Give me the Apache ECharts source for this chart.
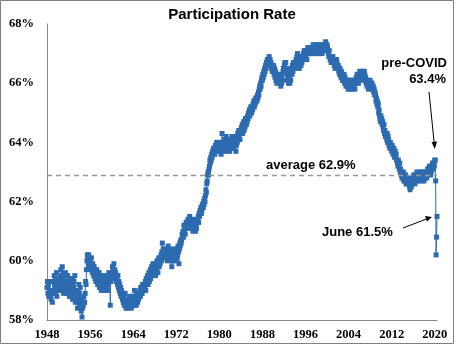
<!DOCTYPE html>
<html>
<head>
<meta charset="utf-8">
<script src="https://cdn.jsdelivr.net/npm/echarts@6/dist/echarts.min.js"></script>
<style>
  html, body { margin: 0; padding: 0; background: #fff; }
  #chart { width: 456px; height: 346px; }
</style>
</head>
<body>
<div id="chart"></div>
<script>
// Labor force participation rate, monthly, Jan 1948 - Jun 2020 (percent)
const startYear = 1948;
const rate = [
  59.1, 59.3, 58.9, 59.2, 58.8, 59.0, 59.3, 58.9, 58.8, 58.7, 59.0, 58.9, // 1948
  58.6, 59.0, 59.3, 58.9, 59.5, 59.2, 58.9, 59.4, 59.1, 59.6, 58.8, 59.0, // 1949
  59.3, 59.1, 59.0, 59.4, 59.2, 59.5, 59.1, 59.7, 59.4, 59.2, 59.8, 59.0, // 1950
  59.2, 58.9, 59.5, 59.0, 59.3, 59.6, 59.1, 59.2, 58.9, 59.3, 59.5, 59.0, // 1951
  59.1, 59.4, 58.8, 59.0, 59.3, 58.9, 58.8, 59.2, 59.4, 58.7, 59.0, 59.1, // 1952
  59.3, 58.9, 59.5, 58.6, 58.8, 59.0, 58.7, 58.9, 58.4, 58.8, 58.6, 59.2, // 1953
  58.9, 58.5, 59.1, 58.6, 58.3, 58.7, 58.1, 58.4, 58.6, 58.5, 58.8, 58.6, // 1954
  58.6, 58.9, 59.3, 59.2, 59.7, 60.0, 60.2, 60.1, 59.9, 60.2, 59.8, 59.9, // 1955
  60.0, 59.7, 59.9, 60.1, 59.8, 59.6, 59.9, 59.7, 59.5, 59.8, 59.6, 59.4, // 1956
  59.6, 59.3, 59.5, 59.7, 59.4, 59.2, 59.5, 59.3, 59.6, 59.1, 59.4, 59.2, // 1957
  59.3, 59.0, 59.4, 59.5, 59.2, 59.4, 59.0, 59.3, 59.1, 59.5, 59.2, 59.0, // 1958
  59.4, 59.1, 59.3, 59.0, 59.2, 59.4, 59.6, 59.3, 59.5, 58.5, 59.3, 59.5, // 1959
  59.6, 59.4, 59.8, 59.7, 59.5, 59.9, 59.6, 59.7, 59.4, 59.6, 59.3, 59.5, // 1960
  59.4, 59.2, 59.5, 59.1, 59.3, 59.0, 59.2, 58.9, 59.1, 58.8, 59.0, 58.9, // 1961
  58.7, 58.9, 58.6, 58.8, 58.5, 58.7, 58.9, 58.6, 58.4, 58.7, 58.5, 58.6, // 1962
  58.4, 58.6, 58.7, 58.5, 58.8, 58.6, 58.5, 58.7, 58.4, 58.6, 58.8, 58.5, // 1963
  58.6, 58.7, 58.5, 59.0, 58.7, 58.6, 58.8, 58.5, 58.7, 58.9, 58.6, 58.8, // 1964
  58.7, 58.9, 58.8, 59.0, 58.8, 59.1, 58.9, 59.0, 58.9, 59.2, 59.0, 59.1, // 1965
  59.0, 59.2, 59.1, 59.3, 59.0, 59.4, 59.2, 59.3, 59.5, 59.2, 59.4, 59.6, // 1966
  59.3, 59.5, 59.7, 59.4, 59.6, 59.8, 59.5, 59.7, 59.9, 59.6, 59.8, 59.7, // 1967
  59.6, 59.8, 59.5, 59.9, 59.7, 60.0, 59.8, 59.6, 59.9, 60.1, 59.8, 60.0, // 1968
  59.9, 60.1, 60.2, 60.0, 60.3, 60.6, 60.2, 60.4, 60.3, 60.1, 60.3, 60.2, // 1969
  60.3, 60.1, 60.4, 60.2, 60.0, 60.3, 60.5, 60.2, 60.1, 60.4, 60.2, 60.3, // 1970
  60.0, 60.2, 59.8, 60.1, 60.3, 60.0, 60.2, 60.4, 60.1, 60.3, 60.0, 60.2, // 1971
  60.3, 60.1, 60.4, 60.2, 60.5, 60.3, 59.9, 60.4, 60.6, 60.5, 60.7, 60.6, // 1972
  60.7, 60.9, 60.8, 61.0, 60.8, 61.2, 61.0, 61.1, 60.9, 61.2, 61.3, 61.1, // 1973
  61.3, 61.2, 61.4, 61.1, 61.3, 61.2, 61.5, 61.3, 61.2, 61.4, 61.3, 61.1, // 1974
  61.2, 61.0, 61.3, 61.2, 61.4, 61.1, 61.3, 61.0, 61.2, 61.1, 61.4, 61.3, // 1975
  61.4, 61.5, 61.3, 61.6, 61.5, 61.7, 61.6, 61.8, 61.6, 61.7, 61.9, 61.8, // 1976
  61.8, 62.0, 61.9, 62.1, 62.0, 62.2, 62.4, 62.3, 62.6, 62.7, 62.9, 63.0, // 1977
  62.9, 63.1, 63.2, 63.4, 63.3, 63.5, 63.4, 63.6, 63.5, 63.7, 63.6, 63.8, // 1978
  63.7, 63.8, 63.6, 63.9, 63.7, 63.8, 64.0, 63.7, 63.9, 63.8, 64.0, 63.8, // 1979
  63.9, 63.7, 63.8, 64.0, 63.6, 63.9, 64.3, 63.8, 63.7, 63.9, 63.8, 64.0, // 1980
  63.9, 64.1, 63.8, 64.2, 64.0, 63.7, 63.9, 64.1, 63.8, 64.0, 63.9, 63.7, // 1981
  64.0, 63.8, 64.1, 63.9, 64.2, 64.0, 63.8, 64.1, 63.9, 64.2, 64.0, 63.9, // 1982
  64.0, 63.7, 63.9, 64.2, 64.0, 64.3, 64.1, 64.4, 64.2, 64.3, 64.1, 64.4, // 1983
  64.3, 64.5, 64.4, 64.6, 64.3, 64.5, 64.7, 64.4, 64.6, 64.5, 64.8, 64.6, // 1984
  64.6, 64.8, 64.7, 64.9, 64.8, 65.0, 64.9, 65.1, 64.9, 65.0, 65.2, 65.1, // 1985
  65.0, 65.2, 65.1, 65.3, 65.2, 65.4, 65.2, 65.4, 65.3, 65.5, 65.4, 65.5, // 1986
  65.4, 65.6, 65.5, 65.7, 65.6, 65.8, 65.9, 65.8, 66.0, 65.9, 66.1, 66.2, // 1987
  66.1, 66.3, 66.2, 66.4, 66.3, 66.5, 66.4, 66.6, 66.5, 66.7, 66.6, 66.8, // 1988
  66.6, 66.8, 66.7, 66.9, 66.7, 66.8, 66.6, 66.7, 66.5, 66.6, 66.4, 66.5, // 1989
  66.4, 66.6, 66.3, 66.5, 66.2, 66.4, 66.1, 66.3, 66.0, 66.2, 66.1, 66.3, // 1990
  66.1, 66.2, 66.0, 66.3, 66.1, 65.9, 66.2, 66.0, 66.3, 66.1, 66.4, 66.5, // 1991
  66.4, 66.6, 66.7, 66.5, 66.7, 66.4, 66.5, 66.3, 66.1, 66.2, 66.0, 66.1, // 1992
  66.2, 66.0, 66.3, 66.1, 66.4, 66.5, 66.3, 66.6, 66.4, 66.7, 66.5, 66.6, // 1993
  66.5, 66.7, 66.6, 66.8, 66.7, 66.9, 67.0, 66.8, 66.6, 66.7, 66.5, 66.8, // 1994
  66.7, 66.9, 66.6, 66.8, 66.7, 66.9, 66.8, 67.0, 66.9, 67.1, 66.9, 67.0, // 1995
  66.9, 67.1, 67.0, 66.8, 67.0, 67.2, 67.1, 67.0, 67.2, 67.1, 67.2, 67.0, // 1996
  67.1, 67.2, 67.0, 67.2, 67.1, 67.3, 67.1, 67.2, 67.0, 67.1, 67.2, 67.3, // 1997
  67.2, 67.1, 67.3, 67.0, 67.2, 67.1, 67.0, 67.2, 67.1, 67.3, 67.2, 67.1, // 1998
  67.2, 67.0, 67.1, 67.3, 67.2, 67.1, 67.2, 67.3, 67.1, 67.4, 67.2, 67.1, // 1999
  67.3, 67.2, 67.1, 67.0, 66.9, 67.1, 66.9, 66.8, 66.9, 66.7, 66.9, 66.8, // 2000
  66.8, 66.9, 66.7, 66.8, 66.6, 66.7, 66.5, 66.7, 66.6, 66.8, 66.7, 66.6, // 2001
  66.5, 66.6, 66.4, 66.5, 66.3, 66.5, 66.4, 66.2, 66.4, 66.3, 66.1, 66.2, // 2002
  66.2, 66.1, 66.3, 66.0, 66.2, 66.1, 65.9, 66.0, 66.1, 65.9, 66.0, 65.8, // 2003
  66.0, 65.9, 66.1, 65.8, 66.0, 66.1, 65.9, 66.0, 65.8, 66.0, 65.9, 66.1, // 2004
  65.9, 66.0, 65.8, 66.1, 66.0, 66.2, 66.0, 66.3, 66.1, 66.2, 66.0, 66.3, // 2005
  66.2, 66.4, 66.3, 66.2, 66.4, 66.3, 66.1, 66.4, 66.2, 66.3, 66.2, 66.4, // 2006
  66.3, 66.1, 66.2, 66.0, 66.1, 65.9, 66.1, 66.0, 65.8, 66.0, 65.9, 66.0, // 2007
  66.1, 65.9, 66.0, 65.8, 66.0, 65.9, 65.8, 65.9, 65.7, 65.8, 65.6, 65.7, // 2008
  65.6, 65.4, 65.5, 65.3, 65.4, 65.2, 65.3, 65.0, 65.1, 64.9, 64.8, 64.7, // 2009
  64.9, 64.7, 64.8, 64.6, 64.7, 64.5, 64.4, 64.6, 64.3, 64.4, 64.2, 64.3, // 2010
  64.2, 64.1, 64.3, 64.0, 64.2, 64.1, 63.9, 64.0, 63.8, 64.0, 63.9, 63.8, // 2011
  63.7, 63.9, 63.8, 63.6, 63.7, 63.8, 63.5, 63.6, 63.7, 63.5, 63.6, 63.4, // 2012
  63.4, 63.3, 63.2, 63.4, 63.2, 63.1, 63.3, 63.0, 63.1, 62.9, 63.0, 62.8, // 2013
  62.9, 62.8, 63.0, 62.7, 62.9, 62.8, 62.7, 62.9, 62.6, 62.8, 62.7, 62.6, // 2014
  62.8, 62.7, 62.6, 62.8, 62.5, 62.4, 62.6, 62.7, 62.5, 62.6, 62.8, 62.7, // 2015
  62.8, 62.9, 62.7, 62.8, 62.6, 62.7, 62.9, 62.8, 63.0, 62.8, 62.7, 62.9, // 2016
  62.8, 62.9, 63.0, 62.7, 62.9, 62.8, 62.9, 63.0, 62.8, 62.7, 62.9, 62.8, // 2017
  62.7, 63.0, 62.9, 62.8, 62.9, 63.0, 62.8, 62.9, 63.1, 62.9, 63.0, 63.1, // 2018
  63.2, 63.0, 63.1, 62.9, 63.0, 63.1, 63.2, 63.3, 63.2, 63.1, 63.3, 63.2, // 2019
  63.4, 63.4, 62.7, 60.2, 60.8, 61.5                                      // 2020
];
const average = 62.9;
const yearTicks = [1948, 1956, 1964, 1972, 1980, 1988, 1996, 2004, 2012, 2020];
const yTicks = [58, 60, 62, 64, 66, 68];

// one category per month
const months = rate.map((v, i) => (startYear + Math.floor(i / 12)) + '-' + (i % 12 + 1));

const blue = '#2d6bb0';

const chart = echarts.init(document.getElementById('chart'));

const option = {
  animation: false,
  backgroundColor: '#fff',
  title: {
    text: 'Participation Rate',
    left: 227,
    top: 2,
    textAlign: 'center',
    textStyle: { fontFamily: 'Liberation Sans', fontWeight: 'bold', fontSize: 15, color: '#000' }
  },
  grid: { left: 47, right: 19, top: 24, bottom: 26 },
  xAxis: {
    type: 'category',
    data: months,
    boundaryGap: false,
    axisLine: { lineStyle: { color: '#888', width: 1 } },
    axisTick: { show: false },
    axisLabel: {
      interval: (idx, val) => idx % 12 === 0 && yearTicks.includes(+val.split('-')[0]),
      formatter: val => val.split('-')[0],
      margin: 8,
      fontFamily: 'Liberation Serif',
      fontWeight: 'bold',
      fontSize: 12.5,
      color: '#000'
    },
    splitLine: { show: false }
  },
  yAxis: {
    type: 'value',
    min: yTicks[0],
    max: yTicks[yTicks.length - 1],
    interval: 2,
    axisLine: { show: true, lineStyle: { color: '#888', width: 1 } },
    axisTick: { show: false },
    axisLabel: {
      formatter: v => v + '%',
      margin: 13,
      fontFamily: 'Liberation Serif',
      fontWeight: 'bold',
      fontSize: 12.5,
      color: '#000'
    },
    splitLine: { show: false }
  },
  series: [{
    type: 'line',
    data: rate,
    symbol: 'rect',
    symbolSize: 5,
    showAllSymbol: true,
    itemStyle: { color: blue },
    lineStyle: { color: blue, width: 1 },
    markLine: {
      silent: true,
      symbol: ['none', 'none'],
      label: { show: false },
      lineStyle: { color: '#999', type: [5, 4], width: 1.3 },
      data: [{ yAxis: average }]
    }
  }],
  graphic: [
    { type: 'rect', shape: { x: 0.5, y: 0.5, width: 453, height: 343 },
      style: { fill: 'none', stroke: '#808080', lineWidth: 1 }, silent: true },
    { type: 'text', x: 447, y: 63, style: { text: 'pre-COVID', align: 'right', verticalAlign: 'middle',
      font: 'bold 13px "Liberation Sans"', fill: '#000' } },
    { type: 'text', x: 446, y: 79, style: { text: '63.4%', align: 'right', verticalAlign: 'middle',
      font: 'bold 13px "Liberation Sans"', fill: '#000' } },
    { type: 'text', x: 266, y: 165, style: { text: 'average ' + average + '%', align: 'left', verticalAlign: 'middle',
      font: 'bold 13px "Liberation Sans"', fill: '#000' } },
    { type: 'text', x: 322, y: 232, style: { text: 'June 61.5%', align: 'left', verticalAlign: 'middle',
      font: 'bold 13px "Liberation Sans"', fill: '#000' } },
    // arrow to pre-COVID point
    { type: 'line', shape: { x1: 429, y1: 92, x2: 434.5, y2: 146 }, style: { stroke: '#000', lineWidth: 1 } },
    { type: 'polygon', shape: { points: [[434.8, 149], [431.5, 142], [437, 141.5]] }, style: { fill: '#000' } },
    // arrow to June point
    { type: 'line', shape: { x1: 403, y1: 228, x2: 429, y2: 218 }, style: { stroke: '#000', lineWidth: 1 } },
    { type: 'polygon', shape: { points: [[432, 217], [425, 216], [427, 221.5]] }, style: { fill: '#000' } }
  ]
};

chart.setOption(option);
</script>
</body>
</html>
